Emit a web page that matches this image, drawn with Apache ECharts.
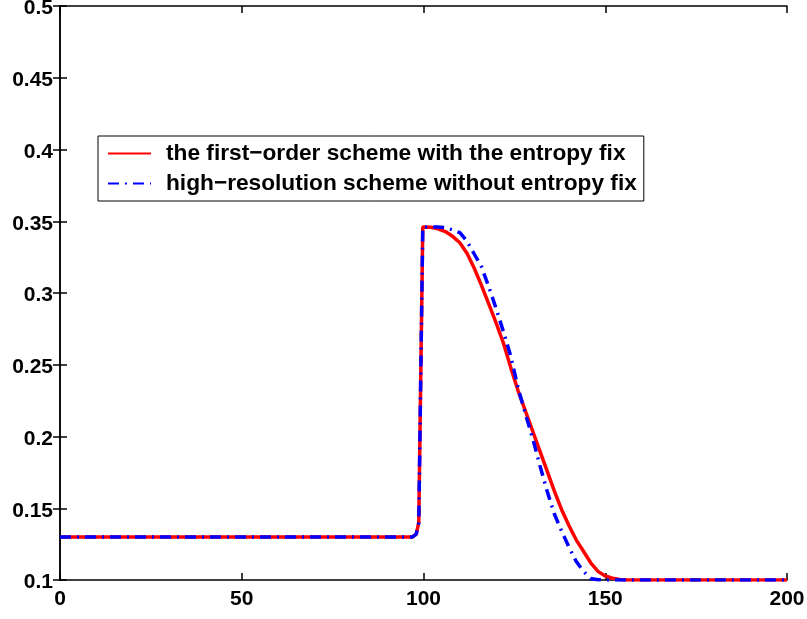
<!DOCTYPE html>
<html>
<head>
<meta charset="utf-8">
<script src="https://cdn.jsdelivr.net/npm/echarts@6/dist/echarts.min.js"></script>
<style>
  html, body { margin: 0; padding: 0; background: #fff; }
  #chart { width: 807px; height: 619px; }
</style>
</head>
<body>
<div id="chart"></div>
<script>
// series values
const firstOrderX = [0, 97, 98, 98.7, 99.8, 102, 104, 106, 108, 110, 112, 114, 116, 118, 120, 122, 124, 126, 128, 130, 132, 134, 136, 138, 140, 142, 144, 146, 148, 150, 152, 154, 156, 200]
const firstOrderY = [0.13, 0.13, 0.132, 0.14, 0.346, 0.3458, 0.3447, 0.3428, 0.3395, 0.335, 0.3275, 0.317, 0.305, 0.292, 0.279, 0.265, 0.248, 0.232, 0.218, 0.204, 0.19, 0.176, 0.162, 0.149, 0.138, 0.128, 0.12, 0.112, 0.106, 0.1028, 0.1012, 0.1004, 0.1, 0.1]
const highResX = [0, 97, 98, 98.7, 99.8, 104, 106, 108, 110, 112, 114, 116, 118, 120, 122, 124, 126, 128, 130, 132, 134, 136, 138, 140, 142, 144, 146, 148, 150, 200]
const highResY = [0.13, 0.13, 0.132, 0.14, 0.346, 0.346, 0.3455, 0.344, 0.342, 0.336, 0.327, 0.318, 0.304, 0.289, 0.273, 0.256, 0.234, 0.216, 0.199, 0.18, 0.162, 0.146, 0.134, 0.123, 0.113, 0.106, 0.101, 0.1002, 0.1, 0.1]
const seriesNames = ['the first\u2212order scheme with the entropy fix', 'high\u2212resolution scheme without entropy fix']

const font = '"Liberation Sans", Arial, Helvetica, sans-serif'
const chart = echarts.init(document.getElementById('chart'))

const zip = (xs, ys) => xs.map((x, i) => [x, ys[i]])

const tickAxis = {
  axisLine: { show: true, lineStyle: { color: '#000', width: 1.5 } },
  axisTick: { show: true, inside: true, length: 7, lineStyle: { color: '#000', width: 1.5 } },
  splitLine: { show: false }
}

chart.setOption({
  animation: false,
  backgroundColor: '#fff',
  grid: { left: 60, top: 6, right: 20, bottom: 39, outerBoundsMode: 'none' },
  legend: {
    left: 98,
    top: 136,
    orient: 'vertical',
    backgroundColor: '#fff',
    borderColor: '#000',
    borderWidth: 1,
    borderRadius: 0,
    padding: [6, 7, 6, 9],
    itemWidth: 43,
    itemHeight: 12,
    itemGap: 7,
    itemStyle: { opacity: 0 },
    textStyle: { color: '#000', fontFamily: font, fontWeight: 'bold', fontSize: 22.7, padding: [0, 0, 0, 10] },
    data: seriesNames
  },
  xAxis: [
    {
      type: 'value', min: 0, max: 200, interval: 50,
      ...tickAxis,
      axisLabel: { color: '#000', fontFamily: font, fontWeight: 'bold', fontSize: 21, margin: 9 }
    },
    {
      type: 'value', position: 'top', min: 0, max: 200, interval: 50,
      ...tickAxis,
      axisLabel: { show: false }
    }
  ],
  yAxis: [
    {
      type: 'value', min: 0.1, max: 0.5, interval: 0.05,
      ...tickAxis,
      axisLabel: {
        color: '#000', fontFamily: font, fontWeight: 'bold', fontSize: 21, margin: 7,
        verticalAlign: 'top', lineHeight: 5,
        formatter: v => String(+v.toFixed(2))
      }
    },
    {
      type: 'value', position: 'right', min: 0.1, max: 0.5, interval: 0.05,
      ...tickAxis,
      axisLabel: { show: false }
    }
  ],
  series: [
    {
      name: seriesNames[0],
      type: 'line',
      symbol: 'none',
      data: zip(firstOrderX, firstOrderY),
      itemStyle: { color: '#ff0000' },
      lineStyle: { color: '#ff0000', width: 3.5, type: 'solid' },
      z: 2
    },
    {
      name: seriesNames[1],
      type: 'line',
      symbol: 'none',
      data: zip(highResX, highResY),
      itemStyle: { color: '#0000ff' },
      lineStyle: { color: '#0000ff', width: 3.5, type: [11, 6, 2, 6] },
      z: 3
    }
  ]
})
</script>
</body>
</html>
